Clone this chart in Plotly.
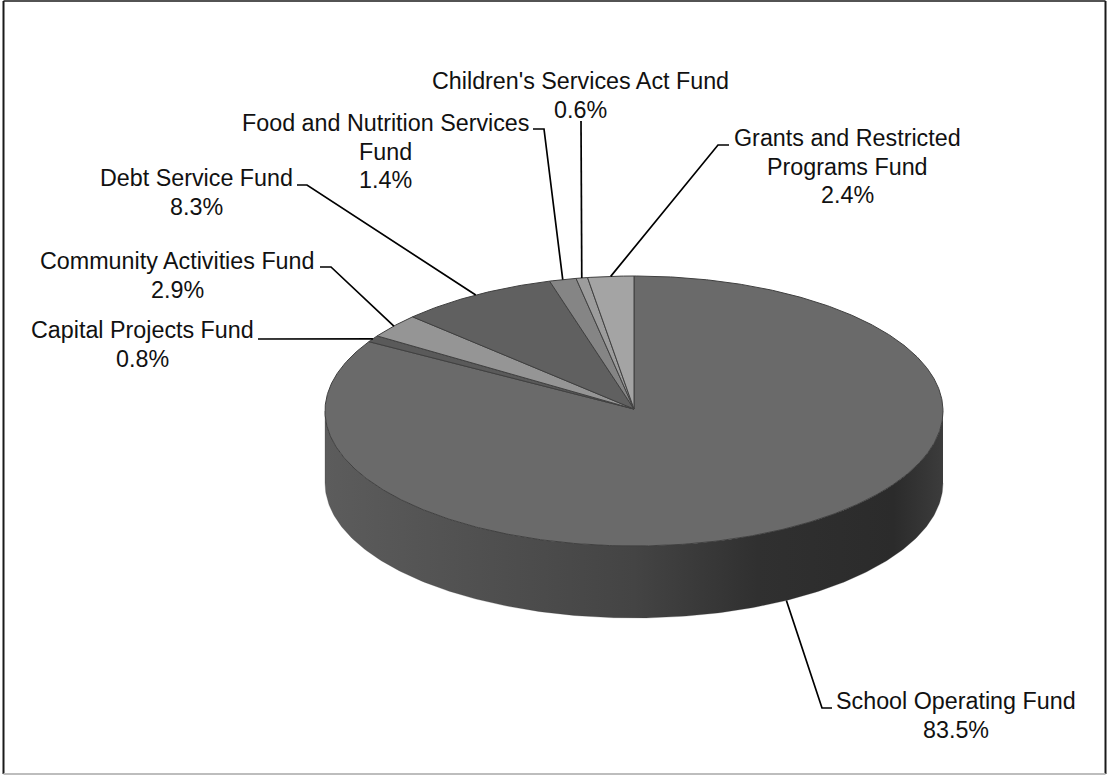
import numpy as np
import plotly.graph_objects as go

# Fund shares of the budget, clockwise from twelve o'clock
funds = ["School Operating Fund", "Capital Projects Fund", "Community Activities Fund",
         "Debt Service Fund", "Food and Nutrition Services Fund",
         "Children's Services Act Fund", "Grants and Restricted Programs Fund"]
shares = [83.5, 0.8, 2.9, 8.3, 1.4, 0.6, 2.4]
slice_colors = ["#6a6a6a", "#5a5a5a", "#959595", "#606060", "#858585", "#9c9c9c", "#a4a4a4"]

# Wrapped label lines
label_lines = [["School Operating Fund"], ["Capital Projects Fund"], ["Community Activities Fund"],
               ["Debt Service Fund"], ["Food and Nutrition Services", "Fund"],
               ["Children's Services Act Fund"], ["Grants and Restricted", "Programs Fund"]]
# Label centre x, first line y, and the leader's outer points
label_x = [956, 142, 177, 196, 385, 580, 847]
label_y = [701, 330, 261, 178, 123, 81, 138]
leader_out = [[(832, 708), (822, 708)], [(258, 339), (268, 339)], [(320, 267), (331, 267)],
              [(297, 185), (307, 185)], [(533, 129), (544, 129)], [(581, 121)],
              [(729, 145), (718, 145)]]

CX, CY, RX, RY, DEPTH = 634, 411, 309, 135, 72
APEX_Y = 409
LINE_H = 28.5
FONT = "Liberation Sans, Arial, sans-serif"


def ellipse(theta_deg):
    t = np.radians(theta_deg)
    return CX + RX * np.sin(t), CY - RY * np.cos(t)


fig = go.Figure()

# Cylinder wall: front half of the disc, shaded left to right
theta = np.linspace(90, 270, 241)
x_top, y_top = ellipse(theta)
wall_x = np.concatenate([x_top, x_top[::-1]])
wall_y = np.concatenate([y_top, y_top[::-1] + DEPTH])
fig.add_trace(go.Scatter(
    x=wall_x, y=wall_y, mode="lines", fill="toself", hoverinfo="skip",
    line=dict(color="rgba(60,60,60,0.5)", width=0.5),
    fillgradient=dict(type="horizontal", start=CX - RX, stop=CX + RX,
                      colorscale=[[0, "#5c5c5c"], [0.25, "#505050"], [0.5, "#444444"],
                                  [0.7, "#303030"], [0.92, "#2b2b2b"], [1, "#3c3c3c"]]),
))

# Top face wedges
total = sum(shares)
start = 0.0
mids = []
for name, val, col in zip(funds, shares, slice_colors):
    stop = start + val / total * 360
    mids.append((start + stop) / 2)
    th = np.linspace(start, stop, max(3, int(val * 8)))
    ex, ey = ellipse(th)
    fig.add_trace(go.Scatter(
        x=np.concatenate([[CX], ex, [CX]]), y=np.concatenate([[APEX_Y], ey, [APEX_Y]]),
        mode="lines", fill="toself", fillcolor=col, name=name,
        line=dict(color="#404040", width=1), hoverinfo="name",
    ))
    start = stop

# Leader lines run from each label to the rim of its wedge
for mid, pts in zip(mids, leader_out):
    ex, ey = ellipse(mid)
    if 90 < mid < 270:
        ey = ey + DEPTH
    xs = [p[0] for p in pts] + [float(ex)]
    ys = [p[1] for p in pts] + [float(ey)]
    fig.add_trace(go.Scatter(x=xs, y=ys, mode="lines", hoverinfo="skip",
                             line=dict(color="#000000", width=1.7)))

# Labels: name lines followed by the share
annotations = []
for lines, lx, ly, val in zip(label_lines, label_x, label_y, shares):
    for i, txt in enumerate(lines + [f"{val:.1f}%"]):
        annotations.append(dict(x=lx, y=ly + i * LINE_H, xref="x", yref="y", text=txt,
                                showarrow=False, xanchor="center", yanchor="middle",
                                font=dict(family=FONT, size=23.3, color="#111111")))

# Chart frame: dark on three sides, pale along the bottom
frame = [((3.5, 774), (3.5, 1), "#1a1a1a", 2), ((3.5, 1), (1105.5, 1), "#1a1a1a", 1.5),
         ((1105.5, 1), (1105.5, 774), "#1a1a1a", 2), ((3.5, 774), (1105.5, 774), "#bdbdbd", 2)]
fig.update_layout(
    width=1107, height=775, margin=dict(l=0, r=0, t=0, b=0),
    paper_bgcolor="#ffffff", plot_bgcolor="#ffffff", showlegend=False,
    xaxis=dict(range=[0, 1107], visible=False, fixedrange=True),
    yaxis=dict(range=[775, 0], visible=False, fixedrange=True),
    annotations=annotations,
    shapes=[dict(type="line", xref="x", yref="y", x0=a[0], y0=a[1], x1=b[0], y1=b[1],
                 line=dict(color=c, width=w), layer="below") for a, b, c, w in frame],
)
fig.write_html("out.html", config=dict(displayModeBar=False))
